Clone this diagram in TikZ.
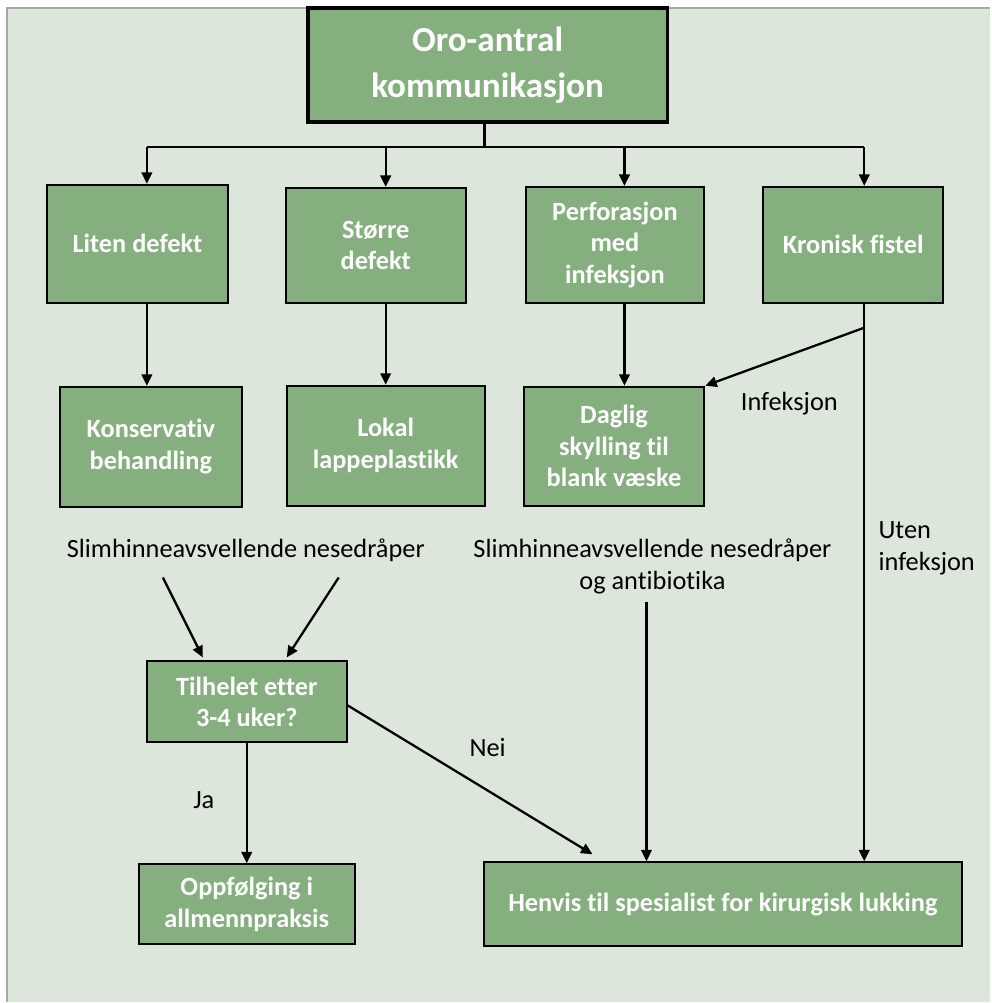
\documentclass[tikz,border=0pt]{standalone}
\usepackage{fontspec}
\setmainfont{Carlito}[Ligatures=NoCommon]
\usetikzlibrary{arrows.meta}
\definecolor{bggreen}{RGB}{220,230,218}
\definecolor{boxgreen}{RGB}{133,175,126}
\definecolor{rimgray}{RGB}{168,168,168}
\begin{document}
\begin{tikzpicture}[x=0.02cm,y=-0.02cm,
    box/.style={draw=black,line width=1.1pt,fill=boxgreen,text=white,align=center,
      inner sep=0pt,font=\fontsize{15}{18}\selectfont\bfseries},
    lbl/.style={align=center,inner sep=0pt,font=\fontsize{15}{18}\selectfont},
    ln/.style={line width=1.3pt},
    arr/.style={line width=1.3pt,-{Triangle[length=6.5pt,width=6pt]}}]
    \fill[white] (0,0) rectangle (991,1003);
    \fill[bggreen] (7,8) rectangle (991,1003);
    \draw[rimgray,line width=1pt] (7,1003) -- (7,8) -- (991,8);

    \node[box,line width=2pt,minimum width=7.2cm,minimum height=2.28cm,
      font=\fontsize{20}{26}\selectfont\bfseries] (oro) at (488,65) {Oro-antral\\kommunikasjon};

    \node[box,minimum width=3.62cm,minimum height=2.36cm] (liten) at (137.5,244) {Liten defekt};
    \node[box,minimum width=3.6cm,minimum height=2.3cm] (storre) at (376,245.5) {Større\\defekt};
    \node[box,minimum width=3.58cm,minimum height=2.32cm] (perf) at (615.5,245) {Perforasjon\\med\\infeksjon};
    \node[box,minimum width=3.6cm,minimum height=2.32cm] (fistel) at (854,245) {Kronisk fistel};

    \node[box,minimum width=3.64cm,minimum height=2.4cm] (konserv) at (151,447) {Konservativ\\behandling};
    \node[box,minimum width=3.96cm,minimum height=2.4cm] (lokal) at (386,446) {Lokal\\lappeplastikk};
    \node[box,minimum width=3.62cm,minimum height=2.38cm] (daglig) at (614.5,446.5) {Daglig\\skylling til\\blank væske};

    \node[lbl] (slim) at (246,551) {Slimhinneavsvellende nesedråper};
    \node[lbl] (slimab) at (653,567) {Slimhinneavsvellende nesedråper\\og antibiotika};
    \node[lbl,align=left,anchor=west] (uten) at (879,549) {Uten\\infeksjon};
    \node[lbl] (inf) at (790,404) {Infeksjon};

    \node[box,minimum width=4cm,minimum height=1.62cm] (tilhelet) at (247,702.5) {Tilhelet etter\\3-4 uker?};
    \node[box,minimum width=4.32cm,minimum height=1.6cm] (oppf) at (247,905) {Oppfølging i\\allmennpraksis};
    \node[box,minimum width=9.58cm,minimum height=1.68cm] (henvis) at (723.5,905) {Henvis til spesialist for kirurgisk lukking};

    \node[lbl] (nei) at (488,748) {Nei};
    \node[lbl] (ja) at (204,801) {Ja};

    \coordinate (b1) at (147,147);
    \coordinate (b2) at (386,147);
    \coordinate (b3) at (625,147);
    \coordinate (b4) at (865,147);
    \coordinate (split) at (865,328);
    \coordinate (s1) at (163,578);
    \coordinate (s2) at (339,578);
    \coordinate (t1) at (203,658);
    \coordinate (t2) at (287,658);
    \coordinate (ab) at (647,603);
    \coordinate (neiend) at (593,855);

    \draw[ln] (oro.south -| 485,0) -- (485,147);
    \draw[ln] (b1) -- (b4);
    \draw[arr] (b1) -- (b1 |- liten.north);
    \draw[arr] (b2) -- (b2 |- storre.north);
    \draw[arr] (b3) -- (b3 |- perf.north);
    \draw[arr] (b4) -- (b4 |- fistel.north);

    \draw[arr] (b1 |- liten.south) -- (b1 |- konserv.north);
    \draw[arr] (b2 |- storre.south) -- (b2 |- lokal.north);
    \draw[arr] (b3 |- perf.south) -- (b3 |- daglig.north);
    \draw[arr] (b4 |- fistel.south) -- (b4 |- henvis.north);
    \draw[arr] (split) -- (daglig.north east);

    \draw[arr] (s1) -- (t1);
    \draw[arr] (s2) -- (t2);
    \draw[arr] (ab) -- (ab |- henvis.north);
    \draw[arr] (tilhelet.south) -- (oppf.north);
    \draw[arr] (tilhelet.east |- 0,706) -- (neiend);
  \end{tikzpicture}
\end{document}
